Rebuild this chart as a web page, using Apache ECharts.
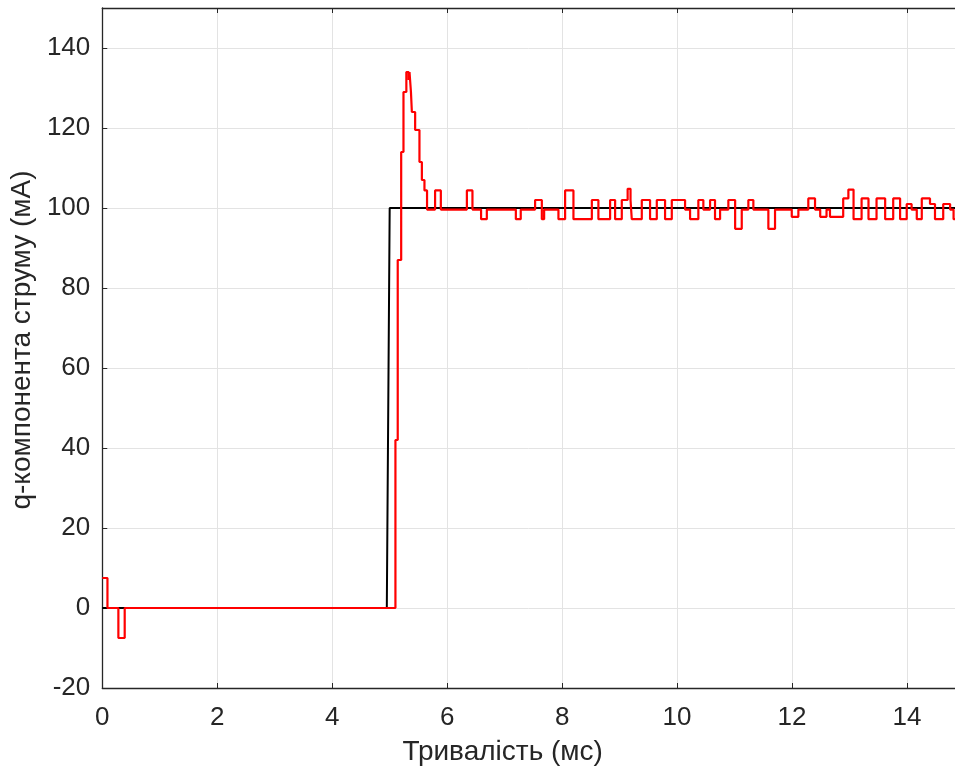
<!DOCTYPE html>
<html>
<head>
<meta charset="utf-8">
<script src="https://cdn.jsdelivr.net/npm/echarts@6/dist/echarts.min.js"></script>
<style>
  html, body { margin: 0; padding: 0; background: #fff; }
  #main { width: 955px; height: 771px; }
</style>
</head>
<body>
<div id="main"></div>
<script>
// reference (set point) current, mA
const refTime = [0, 4.95, 5.0, 15]
const refValue = [0, 0, 100, 100]

// measured q-current, held value from each time (step)
const measTime = [
  0, 0.09, 0.28, 0.39, 5.10, 5.14, 5.20, 5.24, 5.29, 5.33, 5.345, 5.37, 5.386,
  5.443, 5.518, 5.56, 5.605, 5.65, 5.79, 5.89, 6.343, 6.44, 6.59, 6.69, 7.195,
  7.28, 7.53, 7.647, 7.687, 7.936, 8.052, 8.197, 8.517, 8.631, 8.835, 8.922,
  9.038, 9.14, 9.19, 9.212, 9.386, 9.53, 9.647, 9.791, 9.908, 10.139, 10.226,
  10.37, 10.457, 10.574, 10.66, 10.748, 10.892, 11.01, 11.125, 11.24, 11.327,
  11.588, 11.704, 11.995, 12.11, 12.283, 12.4, 12.49, 12.6, 12.66, 12.89,
  12.98, 13.07, 13.21, 13.33, 13.47, 13.62, 13.76, 13.88, 13.995, 14.08,
  14.17, 14.257, 14.4, 14.487, 14.63, 14.75, 14.81, 15
]
const measValue = [
  7.5, 0, -7.5, 0, 42, 87, 114, 129, 134, 132, 134, 129, 124,
  119.5, 111.5, 107, 104.4, 99.6, 104.4, 99.6, 104.4, 99.6, 97.2, 99.6, 97.2,
  99.6, 102, 97.2, 99.6, 97.2, 104.4, 97.2, 102, 97.2, 102, 97.2,
  102, 104.8, 102, 97.2, 102, 97.2, 102, 97.2, 102, 99.6, 97.2,
  102, 99.6, 102, 97.2, 99.6, 102, 94.8, 99.6, 102, 99.6,
  94.8, 99.6, 97.8, 99.6, 102.4, 99.6, 97.8, 99.6, 97.8, 102.4,
  104.6, 97.2, 102.4, 97.2, 102.4, 97.2, 102.4, 97.2, 101, 99.6,
  97.2, 102.4, 101, 97.2, 101, 99.6, 97.2, 97.2
]

const xTitle = 'Тривалість (мс)'
const yTitle = 'q-компонента струму (мА)'

const font = 'Liberation Sans, Arial, sans-serif'
const axisColor = '#262626'
const gridColor = '#e3e3e3'
const xMax = 14.835 // picture is cut off a little before 15 ms

const chart = echarts.init(document.getElementById('main'))
chart.setOption({
  animation: false,
  grid: { left: 102, top: 8, right: 0, bottom: 83 },
  xAxis: [
    {
      type: 'value',
      min: 0,
      max: xMax,
      interval: 2,
      name: xTitle,
      nameLocation: 'middle',
      nameGap: 50,
      nameTextStyle: { fontFamily: font, fontSize: 28, color: axisColor, padding: [0, 52, 0, 0] },
      axisLine: { show: true, onZero: false, lineStyle: { color: axisColor, width: 1.3 } },
      axisTick: { show: true, inside: true, length: 5, lineStyle: { color: axisColor } },
      axisLabel: { fontFamily: font, fontSize: 26, color: axisColor, margin: 17, showMaxLabel: false },
      splitLine: { show: true, lineStyle: { color: gridColor, width: 1 } }
    },
    {
      type: 'value',
      position: 'top',
      min: 0,
      max: xMax,
      interval: 2,
      axisLine: { show: true, onZero: false, lineStyle: { color: axisColor, width: 1.3 } },
      axisTick: { show: true, inside: true, length: 5, lineStyle: { color: axisColor } },
      axisLabel: { show: false },
      splitLine: { show: false }
    }
  ],
  yAxis: {
    type: 'value',
    min: -20,
    max: 150,
    interval: 20,
    name: yTitle,
    nameLocation: 'middle',
    nameGap: 64,
    nameTextStyle: { fontFamily: font, fontSize: 28, color: axisColor, padding: [0, 0, 0, 16] },
    axisLine: { show: true, onZero: false, lineStyle: { color: axisColor, width: 1.3 } },
    axisTick: { show: true, inside: true, length: 5, lineStyle: { color: axisColor } },
    axisLabel: { fontFamily: font, fontSize: 26, color: axisColor, margin: 12, showMaxLabel: false },
    splitLine: { show: true, lineStyle: { color: gridColor, width: 1 } }
  },
  series: [
    {
      name: 'ref',
      type: 'line',
      showSymbol: false,
      data: refTime.map((t, i) => [t, refValue[i]]),
      lineStyle: { color: '#000000', width: 2 },
      itemStyle: { color: '#000000' }
    },
    {
      name: 'iq',
      type: 'line',
      step: 'end',
      showSymbol: false,
      data: measTime.map((t, i) => [t, measValue[i]]),
      lineStyle: { color: '#ff0000', width: 2.2 },
      itemStyle: { color: '#ff0000' }
    }
  ]
})
</script>
</body>
</html>
